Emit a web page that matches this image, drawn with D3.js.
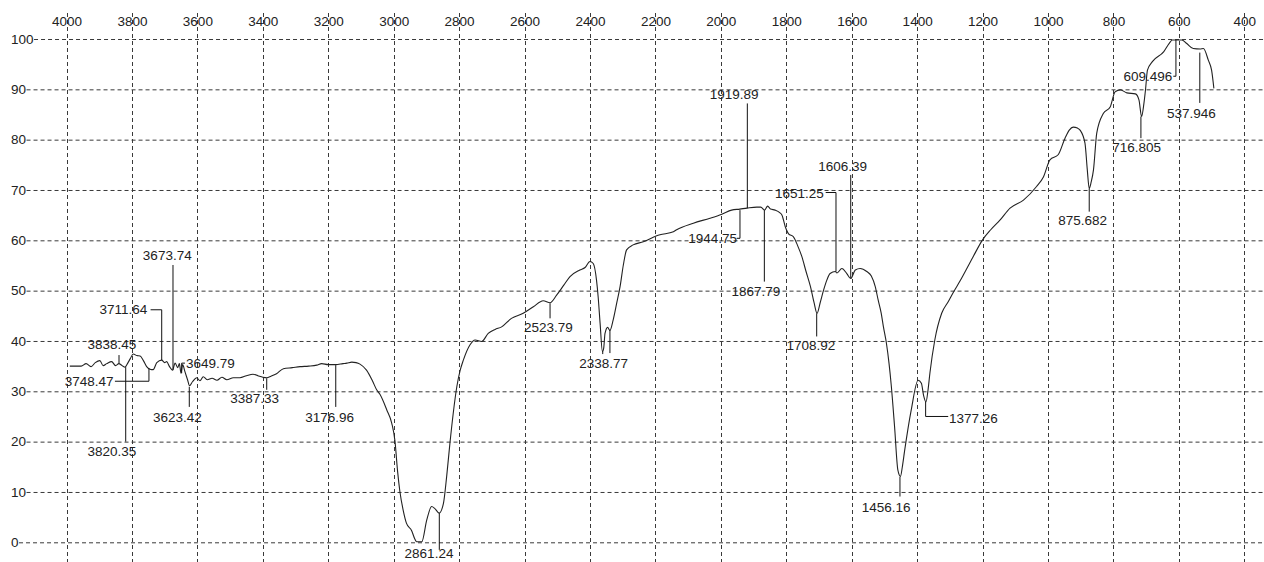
<!DOCTYPE html>
<html>
<head>
<meta charset="utf-8">
<script src="https://cdn.jsdelivr.net/npm/d3@7"></script>
<style>
html,body{margin:0;padding:0;background:#fff;}
svg{display:block;}
text{font-family:"Liberation Sans",Arial,sans-serif;font-size:13.5px;fill:#222;}
</style>
</head>
<body>
<svg id="chart" width="1264" height="562"></svg>
<script>
// ---- tick values ----
const xTicks = [4000,3800,3600,3400,3200,3000,2800,2600,2400,2200,2000,1800,1600,1400,1200,1000,800,600,400];
const yTicks = [0,10,20,30,40,50,60,70,80,90,100];

// ---- spectrum (wavenumber cm-1, %T) ----
const wavenumber = [
3990,3960,3955,3940,3925,3912,3898,3888,3877,3862,3850,3840,3830,3821,3812,3805,3796,3785,3775,3765,
3755,3745,3735,3724,3709,3700,3694,3685,3676,3668,3660,3655,3650,3645,3638,3630,3624,3615,3602,3592,
3582,3570,3555,3540,3525,3510,3490,3470,3450,3430,3415,3400,3388,3375,3358,3337,3310,3286,3260,3235,
3220,3200,3177,3155,3143,3128,3115,3103,3083,3065,3052,3042,3021,3006,2996,2988,2981,2971,2961,2945,
2935,2930,2914,2899,2884,2874,2861,2848,2838,2828,2818,2807,2797,2787,2767,2751,2731,2711,2690,2670,
2640,2604,2573,2543,2522,2502,2480,2461,2431,2415,2400,2390,2380,2375,2369,2362,2358,2354,2346,2339,
2329,2318,2308,2298,2288,2268,2237,2196,2186,2145,2135,2084,2033,1997,1967,1942,1920,1890,1878,1866,
1857,1848,1834,1820,1813,1803,1793,1778,1765,1752,1740,1726,1715,1706,1696,1686,1676,1666,1650,1645,
1630,1615,1603,1589,1574,1554,1540,1528,1519,1510,1503,1494,1486,1479,1469,1459,1451,1445,1438,1418,
1397,1387,1380,1373,1367,1361,1346,1325,1305,1290,1269,1230,1200,1175,1147,1116,1075,1035,1014,994,
969,948,935,923,910,902,887,880,874,868,861,851,831,810,795,779,759,733,722,714,
707,702,696,681,646,630,620,591,576,556,535,525,510,500,493];
const transmittance = [
34.9,34.9,34.9,35.4,34.8,35.6,36.0,35.0,35.4,35.8,35.0,35.4,35.0,34.7,35.6,36.4,37.3,37.0,36.9,36.0,
34.8,34.3,34.2,35.6,36.1,35.6,35.8,34.8,34.1,35.5,34.6,35.4,33.5,35.2,33.8,32.2,31.0,31.8,32.6,32.0,
32.8,32.2,32.5,32.1,32.7,32.2,32.6,32.6,33.0,33.3,33.0,32.7,32.6,32.9,33.4,34.4,34.6,34.8,34.9,35.1,
35.4,35.2,35.2,35.4,35.5,35.7,35.6,35.3,34.1,32.0,30.2,29.3,26.2,23.6,20.0,14.0,10.0,6.3,3.7,2.2,
0.5,0.0,0.0,4.3,7.0,6.6,5.7,7.6,13.0,19.6,25.5,30.8,34.0,36.1,39.1,40.1,39.8,41.4,42.2,42.7,
44.4,45.4,46.7,47.9,47.5,49.0,51.0,52.7,54.0,54.5,55.7,55.3,52.0,48.7,43.4,37.8,38.5,41.4,42.6,42.0,
44.1,47.5,50.7,55.0,58.0,59.0,59.6,60.8,61.0,61.6,62.0,63.3,64.3,65.1,65.9,66.1,66.3,66.5,66.5,65.9,
66.7,66.1,65.9,65.4,64.9,62.6,61.2,60.6,58.8,56.6,53.8,50.7,47.5,45.4,47.6,50.0,52.0,53.3,53.7,53.4,
54.3,53.3,52.3,54.0,54.3,53.7,52.8,50.7,48.0,45.5,42.7,39.5,35.5,31.0,22.9,14.3,13.0,15.0,18.2,26.2,
32.1,31.5,29.0,27.8,30.0,33.5,40.1,45.4,47.7,49.5,51.8,56.5,60.0,62.0,63.9,66.3,67.9,70.6,72.5,75.9,
76.9,80.2,81.8,82.4,82.2,81.8,79.2,74.0,70.2,71.5,73.9,81.2,85.1,86.4,89.4,89.8,89.2,89.0,87.8,84.5,
87.0,89.8,93.7,95.4,97.4,99.0,99.7,99.7,99.0,98.0,97.9,98.0,95.7,93.7,90.1];

// ---- peak annotations ----
const peakText   = ["3838.45","3820.35","3748.47","3711.64","3673.74","3649.79","3623.42","3387.33","3176.96","2861.24","2523.79","","2338.77","1944.75","1919.89","1867.79","1708.92","1651.25","1606.39","1456.16","1377.26","875.682","716.805","609.496","537.946"];
const peakWn     = [3839.5,3819,3748,3709,3674.5,3648,3624.7,3388,3177,2860.5,2522,2361,2339,1941.5,1919,1867,1707,1648,1603,1452.5,1374,874,716,609,536];
const peakT      = [35.5,34.7,34.5,36.1,34.1,33.5,30.8,32.5,35.1,5.7,47.4,37.8,42.1,65.9,66.3,65.9,45.4,53.7,52.4,12.9,27.8,70.2,84.5,99.7,97.2];
const leaderEndT = [37.1,19.9,31.9,46.1,55.0,35.5,26.8,30.2,26.8,-1.6,44.4,37.3,37.5,60.3,87.1,51.7,40.8,69.4,72.9,9.0,24.9,65.6,80.2,92.5,87.2];
const elbowWn    = [null,null,3852,3743,null,3638,null,null,null,null,null,null,null,1951.5,null,null,null,1679.5,null,null,1305,null,null,617,null];
const labelWn    = [3861,3861,3931,3826,3692,3560,3661,3425,3196,2892,2527,null,2358,2025,1959,1893,1725,1760,1628,1494.6,1228,894,729,694.5,562];
const labelT     = [38.3,17.05,31.0,45.3,56.0,34.6,23.9,27.5,23.9,-3.3,41.7,null,34.6,59.4,87.9,48.8,38.1,68.4,73.7,6.0,23.7,62.9,77.4,91.6,84.3];

const svg = d3.select("#chart");
const W = 1264, H = 562;

const x = d3.scaleLinear().domain([4000,400]).range([66.5,1244.3]);
const y = d3.scaleLinear().domain([0,100]).range([541.8,38.5]);

const gridColor = "#3a3a3a";
const dash = "4,3";

// vertical grid lines
svg.append("g").selectAll("line").data(xTicks).join("line")
  .attr("x1", d => Math.round(x(d)) + 0.5).attr("x2", d => Math.round(x(d)) + 0.5)
  .attr("y1", 13).attr("y2", H)
  .attr("stroke", gridColor).attr("stroke-width", 1).attr("stroke-dasharray", dash);

// top axis labels
const gx = svg.append("g").attr("transform", "translate(0,0)")
  .call(d3.axisTop(x).tickValues(xTicks).tickSize(0).tickFormat(d3.format("d")));
gx.select(".domain").remove();
gx.selectAll("text").attr("y", 26).attr("dy", 0)
  .style("font-family", "Liberation Sans, Arial, sans-serif").style("font-size", "13.5px").attr("fill", "#222");

// left axis labels
const gy = svg.append("g").attr("transform", "translate(0,0)")
  .call(d3.axisLeft(y).tickValues(yTicks).tickSize(0).tickFormat(d3.format("d")));
gy.select(".domain").remove();
gy.selectAll("text").attr("x", 11).attr("dy", "0.34em").attr("text-anchor", "start")
  .style("font-family", "Liberation Sans, Arial, sans-serif").style("font-size", "13.5px").attr("fill", "#222");

// horizontal grid lines, starting at end of each label
gy.selectAll(".tick").each(function(d) {
  const t = d3.select(this).select("text").node();
  const w = t.getComputedTextLength();
  d3.select(this).append("line")
    .attr("x1", 11 + w + 0.5).attr("x2", W)
    .attr("y1", 0.5).attr("y2", 0.5)
    .attr("stroke", gridColor).attr("stroke-width", 1).attr("stroke-dasharray", dash);
});

// spectrum line
const pts = wavenumber.map((w, i) => [w, transmittance[i]]);
svg.append("path").datum(pts)
  .attr("fill", "none").attr("stroke", "#222").attr("stroke-width", 1.1)
  .attr("stroke-linejoin", "round")
  .attr("d", d3.line().curve(d3.curveMonotoneX).x(d => x(d[0])).y(d => y(d[1])));

// annotations
const ann = svg.append("g");
peakWn.forEach((w, i) => {
  const px = x(w);
  const pts2 = [[px, y(peakT[i])], [px, y(leaderEndT[i])]];
  if (elbowWn[i] !== null) pts2.push([x(elbowWn[i]), y(leaderEndT[i])]);
  ann.append("path")
    .attr("d", d3.line()(pts2))
    .attr("fill", "none").attr("stroke", "#111").attr("stroke-width", 1);
  if (peakText[i]) {
    ann.append("text")
      .attr("x", x(labelWn[i])).attr("y", y(labelT[i]))
      .attr("text-anchor", "middle").text(peakText[i]);
  }
});
</script>
</body>
</html>
